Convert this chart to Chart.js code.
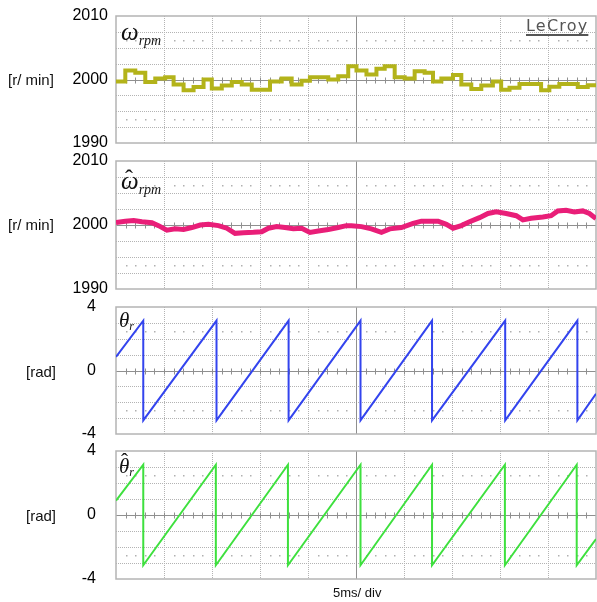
<!DOCTYPE html>
<html>
<head>
<meta charset="utf-8">
<script src="https://cdn.jsdelivr.net/npm/chart.js@4.4.1/dist/chart.umd.min.js"></script>
<style>
  body { margin: 0; background: #fff; }
  #scope { position: relative; width: 597px; height: 602px; font-family: 'Liberation Sans', Arial, sans-serif; color: #111; }
  .panel { position: absolute; left: 0; width: 597px; }
  .unit { position: absolute; font-size: 15px; line-height: 18px; }
  .sym { position: absolute; font-family: 'Liberation Serif', 'Times New Roman', serif; font-style: italic; line-height: 1; white-space: nowrap; }
  .big { font-size: 25px; }
  .big sub { font-size: 14px; vertical-align: -5px; }
  .mid { font-size: 21px; }
  .mid sub { font-size: 12px; vertical-align: -3px; }
  .hatbox { position: relative; display: inline-block; }
  .hat { position: absolute; font-style: normal; }
  .big .hat { left: 4px; top: -2px; font-size: 24px; }
  .mid .hat { left: 2px; top: -5px; font-size: 21px; }
  #brand { position: absolute; left: 526px; top: 16px; font-family: 'DejaVu Sans', sans-serif; font-size: 16px; letter-spacing: 1.2px; color: #555; text-decoration: underline; text-decoration-thickness: 1.5px; text-underline-offset: 3px; }
  #timebase { position: absolute; left: 333px; top: 585px; font-size: 13px; }
</style>
</head>
<body>
<div id="scope">
  <div class="panel" style="top:4px;height:151px"><canvas id="speedChart"></canvas></div>
  <div class="panel" style="top:149px;height:152px"><canvas id="estSpeedChart"></canvas></div>
  <div class="panel" style="top:295px;height:151px"><canvas id="angleChart"></canvas></div>
  <div class="panel" style="top:439px;height:152px"><canvas id="estAngleChart"></canvas></div>

  <div class="unit" style="left:8px;top:71px">[r/ min]</div>
  <div class="unit" style="left:8px;top:216px">[r/ min]</div>
  <div class="unit" style="left:26px;top:363px">[rad]</div>
  <div class="unit" style="left:26px;top:507px">[rad]</div>

  <div class="sym big" style="left:121px;top:19px">ω<sub>rpm</sub></div>
  <div class="sym big" style="left:121px;top:168px"><span class="hatbox">ω<span class="hat">ˆ</span></span><sub>rpm</sub></div>
  <div class="sym mid" style="left:119px;top:310px">θ<sub>r</sub></div>
  <div class="sym mid" style="left:119px;top:456px"><span class="hatbox">θ<span class="hat">ˆ</span></span><sub>r</sub></div>

  <div id="brand">LeCroy</div>
  <div id="timebase">5ms/ div</div>
</div>

<script>
// time axis: 10 divisions of 5 ms
const timeMin = 0;
const timeMax = 50;

// measured speed (stepped), ms / rpm
const speedTime = [0, 0.97, 2.01, 3.05, 4.09, 5.12, 6.00, 7.04, 8.08, 9.12, 9.98, 11.02, 12.06, 13.10, 14.14,
  16.04, 17.26, 18.30, 19.33, 20.20, 22.11, 23.15, 24.19, 25.05, 26.09, 27.13, 27.99, 29.03, 30.07, 31.11,
  32.15, 33.02, 33.89, 35.10, 35.97, 37.01, 38.05, 39.26, 40.12, 40.99, 42.03, 44.28, 45.14, 46.18, 48.10, 49.14, 50];
const speedRpm = [1999.7, 2001.4, 2001.05, 1999.6, 2000.15, 2000.35, 1999.2, 1998.3, 1998.8, 2000.0, 1998.6, 1999.05, 1999.6, 1999.2, 1998.4,
  1999.7, 2000.15, 1999.2, 1999.8, 2000.35, 2000.0, 2000.5, 2002.1, 2001.4, 2000.8, 2001.7, 2002.1, 2000.35, 2000.15, 2001.3,
  2001.05, 1999.7, 2000.15, 2000.7, 1999.2, 1998.5, 1999.05, 1999.7, 1998.4, 1998.7, 1999.3, 1998.3, 1998.85, 1999.3, 1998.8, 1999.1, 1999.1];

// estimated speed
const estSpeedTime = [0, 0.97, 1.84, 2.70, 3.74, 4.43, 5.30, 6.17, 7.04, 7.90, 8.77, 9.63, 10.67, 11.54, 12.40,
  13.27, 14.31, 15.18, 15.87, 16.74, 17.60, 18.47, 19.34, 20.20, 21.07, 22.11, 23.15, 24.01, 24.53, 25.57,
  26.61, 27.65, 28.52, 29.73, 30.95, 31.81, 33.55, 34.41, 35.11, 35.97, 36.83, 37.87, 38.75, 39.61, 40.65,
  41.69, 42.38, 43.25, 44.46, 45.32, 46.02, 46.88, 47.75, 48.62, 49.31, 50];
const estSpeedRpm = [2000.4, 2000.6, 2000.7, 2000.5, 2000.35, 1999.9, 1999.2, 1999.4, 1999.3, 1999.6, 2000.0, 2000.1, 1999.9, 1999.5, 1998.7,
  1998.8, 1998.85, 1998.95, 1999.5, 1999.75, 1999.6, 1999.4, 1999.5, 1998.85, 1999.05, 1999.3, 1999.6, 1999.9, 1999.9, 1999.75,
  1999.4, 1998.85, 1999.4, 1999.6, 2000.25, 2000.6, 2000.6, 2000.1, 1999.5, 1999.9, 2000.5, 2001.15, 2001.8, 2002.05, 2001.8,
  2001.45, 2000.8, 2001.05, 2001.25, 2001.45, 2002.2, 2002.3, 2002.05, 2002.2, 2001.8, 2001.0];

// rotor angle (sawtooth vertices)
const angleTime = [0, 2.84, 2.84, 10.47, 10.47, 17.98, 17.98, 25.47, 25.47, 32.92, 32.92, 40.54, 40.54, 48.06, 48.06, 50];
const angleRad = [0.86, 3.14, -3.14, 3.14, -3.14, 3.14, -3.14, 3.14, -3.14, 3.14, -3.14, 3.14, -3.14, 3.14, -3.14, -1.47];

// estimated rotor angle
const estAngleTime = [0, 2.84, 2.84, 10.40, 10.40, 17.91, 17.91, 25.47, 25.47, 32.92, 32.92, 40.51, 40.51, 47.99, 47.99, 50];
const estAngleRad = [0.9, 3.14, -3.14, 3.14, -3.14, 3.14, -3.14, 3.14, -3.14, 3.14, -3.14, 3.14, -3.14, 3.14, -3.14, -1.5];

// labelled ticks
const speedTicks = [1990, 2000, 2010];
const angleTicks = [-4, 0, 4];

// scope graticule drawn under the traces
const scopeGrid = {
  id: 'scopeGrid',
  beforeDatasetsDraw(chart) {
    const { ctx, chartArea: a, scales: { x, y } } = chart;
    const yStep = (y.max - y.min) / 8;
    const line = (x1, y1, x2, y2) => { ctx.beginPath(); ctx.moveTo(x1, y1); ctx.lineTo(x2, y2); ctx.stroke(); };
    ctx.save();

    ctx.strokeStyle = '#b3b3b3';
    ctx.lineWidth = 1;
    ctx.setLineDash([1, 1]);
    for (let i = 1; i < 10; i++) {
      if (i === 5) continue;
      const px = Math.round(x.getPixelForValue(i * 5)) + 0.5;
      line(px, a.top, px, a.bottom);
    }
    for (let j = 1; j < 8; j++) {
      if (j === 4) continue;
      const py = Math.round(y.getPixelForValue(y.min + j * yStep)) + 0.5;
      line(a.left, py, a.right, py);
    }
    ctx.setLineDash([]);

    // dotted rows
    ctx.fillStyle = '#b0b0b0';
    [1.5, 6.5].forEach(j => {
      const py = Math.round(y.getPixelForValue(y.min + j * yStep));
      for (let k = 1; k < 50; k++) {
        if (k % 5 === 0) continue;
        ctx.fillRect(Math.round(x.getPixelForValue(k)), py, 1.5, 1.5);
      }
    });

    // centre cross with minor ticks
    ctx.strokeStyle = '#8f8f8f';
    const cx = Math.round(x.getPixelForValue(25)) + 0.5;
    const cy = Math.round(y.getPixelForValue((y.min + y.max) / 2)) + 0.5;
    line(cx, a.top, cx, a.bottom);
    line(a.left, cy, a.right, cy);
    for (let k = 1; k < 50; k++) {
      const px = Math.round(x.getPixelForValue(k)) + 0.5;
      line(px, cy - 3, px, cy + 3);
    }

    // frame
    ctx.strokeStyle = '#b4b4b4';
    ctx.lineWidth = 1.5;
    ctx.strokeRect(a.left, a.top, a.right - a.left, a.bottom - a.top);
    ctx.restore();
  }
};

function scopePanel(id, times, values, opts) {
  return new Chart(document.getElementById(id), {
    type: 'line',
    data: {
      datasets: [{
        data: times.map((t, i) => ({ x: t, y: values[i] })),
        borderColor: opts.color,
        borderWidth: opts.width,
        stepped: opts.stepped || false,
        pointRadius: 0,
        tension: 0,
        fill: false
      }]
    },
    options: {
      responsive: true,
      maintainAspectRatio: false,
      animation: false,
      layout: { padding: { top: 12, bottom: 12, left: 0, right: 1 } },
      plugins: {
        legend: { display: false },
        tooltip: { enabled: false }
      },
      scales: {
        x: { type: 'linear', min: timeMin, max: timeMax, display: false },
        y: {
          min: opts.min,
          max: opts.max,
          grid: { display: false, drawTicks: false },
          border: { display: false },
          afterBuildTicks: axis => { axis.ticks = opts.ticks.map(v => ({ value: v })); },
          afterFit: axis => {
            axis.width = 116;
            axis.paddingTop = 0;
            axis.paddingBottom = 0;
          },
          ticks: {
            padding: opts.pad,
            color: '#000',
            autoSkip: false,
            font: { family: "'Liberation Sans', Arial, sans-serif", size: 16 },
            callback: v => String(v)
          }
        }
      }
    },
    plugins: [scopeGrid]
  });
}

scopePanel('speedChart', speedTime, speedRpm, { color: '#b3b31a', width: 4, stepped: true, min: 1990, max: 2010, ticks: speedTicks, pad: 8 });
scopePanel('estSpeedChart', estSpeedTime, estSpeedRpm, { color: '#e91e78', width: 5, min: 1990, max: 2010, ticks: speedTicks, pad: 8 });
scopePanel('angleChart', angleTime, angleRad, { color: '#3344ee', width: 2, min: -4, max: 4, ticks: angleTicks, pad: 20 });
scopePanel('estAngleChart', estAngleTime, estAngleRad, { color: '#3ee03e', width: 2, min: -4, max: 4, ticks: angleTicks, pad: 20 });
</script>
</body>
</html>
